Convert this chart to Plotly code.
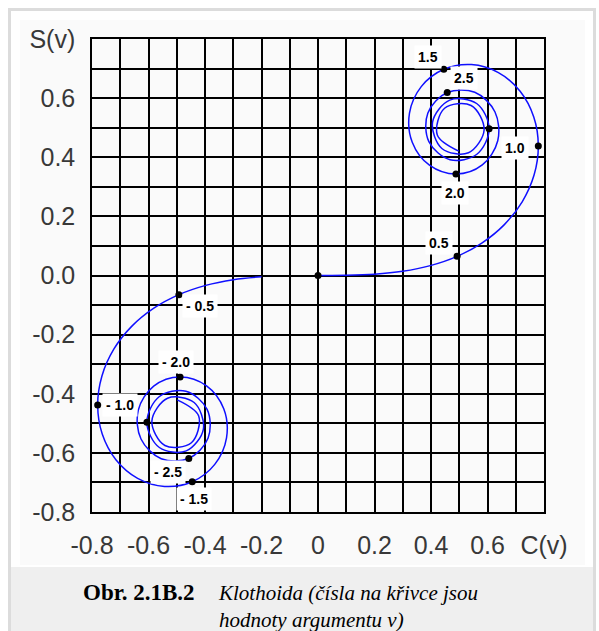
import plotly.graph_objects as go

# ---- data (Fresnel / Cornu spiral values) ----
# right branch, v = 0.0 ... 4.0
C_RIGHT = [0.0, 0.09999, 0.19992, 0.29940, 0.39748, 0.49234, 0.58112, 0.65965, 0.72284, 0.76482,
           0.77989, 0.76380, 0.71544, 0.63855, 0.54310, 0.44526, 0.36546, 0.32383, 0.33363, 0.39447,
           0.48825, 0.58156, 0.63629, 0.62656, 0.55496, 0.45741, 0.38894, 0.39249, 0.46749, 0.56238,
           0.60572, 0.56159, 0.46632, 0.40569, 0.43849, 0.53257, 0.58795, 0.54195, 0.44810, 0.42233,
           0.49842]
S_RIGHT = [0.0, 0.00052, 0.00419, 0.01412, 0.03336, 0.06473, 0.11054, 0.17214, 0.24934, 0.33978,
           0.43826, 0.53650, 0.62340, 0.68633, 0.71353, 0.69750, 0.63889, 0.54920, 0.45094, 0.37335,
           0.34342, 0.37427, 0.45570, 0.55315, 0.61969, 0.61918, 0.54999, 0.45292, 0.39153, 0.41014,
           0.49631, 0.58182, 0.59335, 0.51929, 0.42965, 0.41525, 0.49231, 0.57498, 0.56562, 0.47521,
           0.42052]
# left branch, v = -0.2 ... -4.0
C_LEFT = [-0.19992, -0.29940, -0.39748, -0.49234, -0.58112, -0.65965, -0.72284, -0.76482,
          -0.77989, -0.76380, -0.71544, -0.63855, -0.54310, -0.44526, -0.36546, -0.32383, -0.33363, -0.39447,
          -0.48825, -0.58156, -0.63629, -0.62656, -0.55496, -0.45741, -0.38894, -0.39249, -0.46749, -0.56238,
          -0.60572, -0.56159, -0.46632, -0.40569, -0.43849, -0.53257, -0.58795, -0.54195, -0.44810, -0.42233,
          -0.49842]
S_LEFT = [-0.00419, -0.01412, -0.03336, -0.06473, -0.11054, -0.17214, -0.24934, -0.33978,
          -0.43826, -0.53650, -0.62340, -0.68633, -0.71353, -0.69750, -0.63889, -0.54920, -0.45094, -0.37335,
          -0.34342, -0.37427, -0.45570, -0.55315, -0.61969, -0.61918, -0.54999, -0.45292, -0.39153, -0.41014,
          -0.49631, -0.58182, -0.59335, -0.51929, -0.42965, -0.41525, -0.49231, -0.57498, -0.56562, -0.47521,
          -0.42052]

# marked points on the curve
MARK_V = [0.0, 0.5, 1.0, 1.5, 2.0, 2.5, 3.0, -0.5, -1.0, -1.5, -2.0, -2.5, -3.0]
MARK_C = [0.0, 0.49234, 0.77989, 0.44526, 0.48825, 0.45741, 0.60572,
          -0.49234, -0.77989, -0.44526, -0.48825, -0.45741, -0.60572]
MARK_S = [0.0, 0.06473, 0.43826, 0.69750, 0.34342, 0.61918, 0.49631,
          -0.06473, -0.43826, -0.69750, -0.34342, -0.61918, -0.49631]
MARK_TEXT = ["", "0.5", "1.0", "1.5", "2.0", "2.5", "",
             "- 0.5", "- 1.0", "- 1.5", "- 2.0", "- 2.5", ""]

# axis ticks
X_TICKS = [-0.8, -0.7, -0.6, -0.5, -0.4, -0.3, -0.2, -0.1, 0.0, 0.1, 0.2, 0.3, 0.4, 0.5, 0.6, 0.7, 0.8]
X_TICKTEXT = ["-0.8", "", "-0.6", "", "-0.4", "", "-0.2", "", "0", "", "0.2", "", "0.4", "", "0.6", "", "C(v)"]
Y_TICKS = [-0.8, -0.7, -0.6, -0.5, -0.4, -0.3, -0.2, -0.1, 0.0, 0.1, 0.2, 0.3, 0.4, 0.5, 0.6, 0.7, 0.8]
Y_TICKTEXT = ["-0.8", "", "-0.6", "", "-0.4", "", "-0.2", "", "0.0", "", "0.2", "", "0.4", "", "0.6", "", "S(v)"]

CAPTION_BOLD = "Obr. 2.1B.2"
CAPTION_ITALIC = "Klothoida (čísla na křivce jsou<br>hodnoty argumentu v)"

# ---- styling / layout ----
W, H = 599, 631
ML, MR, MT, MB = 92, 55, 39, 119
PW, PH = W - ML - MR, H - MT - MB


def px(x):
    return (x - ML) / PW


def py(y):
    return (H - MB - y) / PH


# label pixel offsets relative to their point (xshift, yshift)
LABEL_SHIFT = {
    "0.5": (-18, 13), "1.0": (-23, -2), "1.5": (-16, 12), "2.0": (-1, -19), "2.5": (17, 14),
    "- 0.5": (21, -11), "- 1.0": (22, 0), "- 1.5": (2, -17), "- 2.0": (-4, 15), "- 2.5": (-21, -13),
}

fig = go.Figure()
line_style = dict(color="#1010ff", width=1.5, shape="spline", smoothing=1.0)
fig.add_trace(go.Scatter(x=C_RIGHT, y=S_RIGHT, mode="lines", line=line_style, hoverinfo="skip"))
fig.add_trace(go.Scatter(x=C_LEFT, y=S_LEFT, mode="lines", line=line_style, hoverinfo="skip"))
fig.add_trace(go.Scatter(x=MARK_C, y=MARK_S, mode="markers",
                         marker=dict(color="black", size=7), hoverinfo="skip"))

for c, s, t in zip(MARK_C, MARK_S, MARK_TEXT):
    if not t:
        continue
    dx, dy = LABEL_SHIFT[t]
    fig.add_annotation(x=c, y=s, text=t, showarrow=False, xshift=dx, yshift=dy,
                       font=dict(family="Liberation Sans", size=14, color="black", weight="bold"),
                       bgcolor="white", borderpad=3)

# caption
fig.add_annotation(x=px(81), y=py(592), xref="paper", yref="paper", xanchor="left", yanchor="middle",
                   text="<b>" + CAPTION_BOLD + "</b>", showarrow=False,
                   font=dict(family="Liberation Serif", size=23, color="black"))
fig.add_annotation(x=px(216), y=py(579), xref="paper", yref="paper", xanchor="left", yanchor="top",
                   text="<i>" + CAPTION_ITALIC + "</i>", showarrow=False, align="left",
                   font=dict(family="Liberation Serif", size=21, color="black"))

# frame, image background, caption background
fig.add_shape(type="rect", xref="paper", yref="paper", x0=px(20), x1=px(585), y0=py(20), y1=py(565),
              fillcolor="#fafafa", line=dict(width=0), layer="below")
fig.add_shape(type="rect", xref="paper", yref="paper", x0=px(11), x1=px(593), y0=py(567), y1=py(640),
              fillcolor="#efefef", line=dict(width=0), layer="below")
fig.add_shape(type="rect", xref="paper", yref="paper", x0=px(9.5), x1=px(594.5), y0=py(9.5), y1=py(645),
              fillcolor="rgba(0,0,0,0)", line=dict(width=3, color="#dcdcdc"), layer="below")

axis_common = dict(range=[-0.8, 0.8], showgrid=True, gridcolor="black", gridwidth=1.5,
                   zeroline=False, showline=True, linecolor="black", linewidth=1.5, mirror=True,
                   ticks="outside", ticklen=10, tickcolor="rgba(0,0,0,0)", automargin=False,
                   tickfont=dict(family="Liberation Sans", size=25, color="#383838"),
                   fixedrange=True)
fig.update_xaxes(tickvals=X_TICKS, ticktext=X_TICKTEXT, **axis_common)
fig.update_yaxes(tickvals=Y_TICKS, ticktext=Y_TICKTEXT, **axis_common)

fig.update_layout(width=W, height=H, margin=dict(l=ML, r=MR, t=MT, b=MB),
                  paper_bgcolor="white", plot_bgcolor="#fbfbfb", showlegend=False)

fig.write_html("out.html", config={"displayModeBar": False},
               post_script="document.body.style.margin='0';document.body.style.overflow='hidden';")
